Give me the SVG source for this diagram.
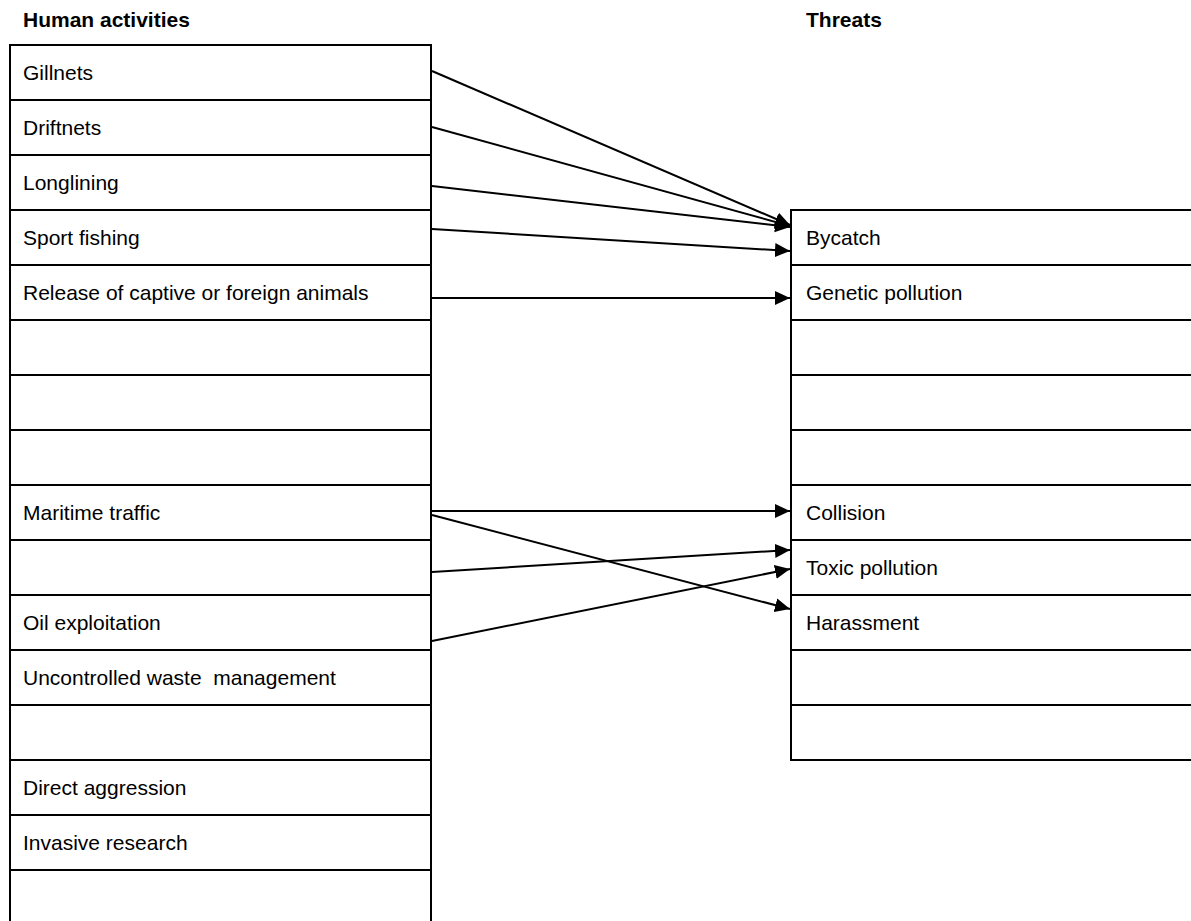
<svg xmlns="http://www.w3.org/2000/svg" width="1191" height="921" viewBox="0 0 1191 921">
<style>
.cell{fill:#fff;stroke:#000;stroke-width:2}
.t{font-family:"Liberation Sans",Arial,sans-serif;font-size:21px;fill:#000}
.h{font-family:"Liberation Sans",Arial,sans-serif;font-size:21px;font-weight:bold;fill:#000}
.c{stroke:#000;stroke-width:2;fill:none;marker-end:url(#ah)}
</style>
<defs>
<marker id="ah" markerUnits="userSpaceOnUse" markerWidth="16" markerHeight="15" refX="15" refY="7" orient="auto" viewBox="0 0 16 14">
<path d="M0,0 L15,7 L0,14 Z" fill="#000"/>
</marker>
</defs>
<rect width="1191" height="921" fill="#fff"/>
<text class="h" x="23" y="27">Human activities</text>
<text class="h" x="806" y="27">Threats</text>
<g id="left-table">
<g id="a1"><rect class="cell" x="10" y="45" width="421" height="55"/><text class="t" x="23" y="80">Gillnets</text></g>
<g id="a2"><rect class="cell" x="10" y="100" width="421" height="55"/><text class="t" x="23" y="135">Driftnets</text></g>
<g id="a3"><rect class="cell" x="10" y="155" width="421" height="55"/><text class="t" x="23" y="190">Longlining</text></g>
<g id="a4"><rect class="cell" x="10" y="210" width="421" height="55"/><text class="t" x="23" y="245">Sport fishing</text></g>
<g id="a5"><rect class="cell" x="10" y="265" width="421" height="55"/><text class="t" x="23" y="300">Release of captive or foreign animals</text></g>
<g id="a6"><rect class="cell" x="10" y="320" width="421" height="55"/></g>
<g id="a7"><rect class="cell" x="10" y="375" width="421" height="55"/></g>
<g id="a8"><rect class="cell" x="10" y="430" width="421" height="55"/></g>
<g id="a9"><rect class="cell" x="10" y="485" width="421" height="55"/><text class="t" x="23" y="520">Maritime traffic</text></g>
<g id="a10"><rect class="cell" x="10" y="540" width="421" height="55"/></g>
<g id="a11"><rect class="cell" x="10" y="595" width="421" height="55"/><text class="t" x="23" y="630">Oil exploitation</text></g>
<g id="a12"><rect class="cell" x="10" y="650" width="421" height="55"/><text class="t" x="23" y="685" xml:space="preserve">Uncontrolled waste  management</text></g>
<g id="a13"><rect class="cell" x="10" y="705" width="421" height="55"/></g>
<g id="a14"><rect class="cell" x="10" y="760" width="421" height="55"/><text class="t" x="23" y="795">Direct aggression</text></g>
<g id="a15"><rect class="cell" x="10" y="815" width="421" height="55"/><text class="t" x="23" y="850">Invasive research</text></g>
<g id="a16"><rect class="cell" x="10" y="870" width="421" height="60"/></g>
</g>
<g id="right-table">
<g id="t1"><rect class="cell" x="791" y="210" width="420" height="55"/><text class="t" x="806" y="245">Bycatch</text></g>
<g id="t2"><rect class="cell" x="791" y="265" width="420" height="55"/><text class="t" x="806" y="300">Genetic pollution</text></g>
<g id="t3"><rect class="cell" x="791" y="320" width="420" height="55"/></g>
<g id="t4"><rect class="cell" x="791" y="375" width="420" height="55"/></g>
<g id="t5"><rect class="cell" x="791" y="430" width="420" height="55"/></g>
<g id="t6"><rect class="cell" x="791" y="485" width="420" height="55"/><text class="t" x="806" y="520">Collision</text></g>
<g id="t7"><rect class="cell" x="791" y="540" width="420" height="55"/><text class="t" x="806" y="575">Toxic pollution</text></g>
<g id="t8"><rect class="cell" x="791" y="595" width="420" height="55"/><text class="t" x="806" y="630">Harassment</text></g>
<g id="t9"><rect class="cell" x="791" y="650" width="420" height="55"/></g>
<g id="t10"><rect class="cell" x="791" y="705" width="420" height="55"/></g>
</g>
<g id="connectors">
<line class="c" x1="432" y1="71" x2="790" y2="225"/>
<line class="c" x1="432" y1="127" x2="790" y2="226"/>
<line class="c" x1="432" y1="186" x2="790" y2="227"/>
<line class="c" x1="432" y1="229" x2="790" y2="251"/>
<line class="c" x1="432" y1="298" x2="790" y2="298"/>
<line class="c" x1="432" y1="511" x2="790" y2="511"/>
<line class="c" x1="432" y1="515" x2="790" y2="609"/>
<line class="c" x1="432" y1="572" x2="790" y2="550"/>
<line class="c" x1="432" y1="641" x2="790" y2="569"/>
</g>
</svg>
